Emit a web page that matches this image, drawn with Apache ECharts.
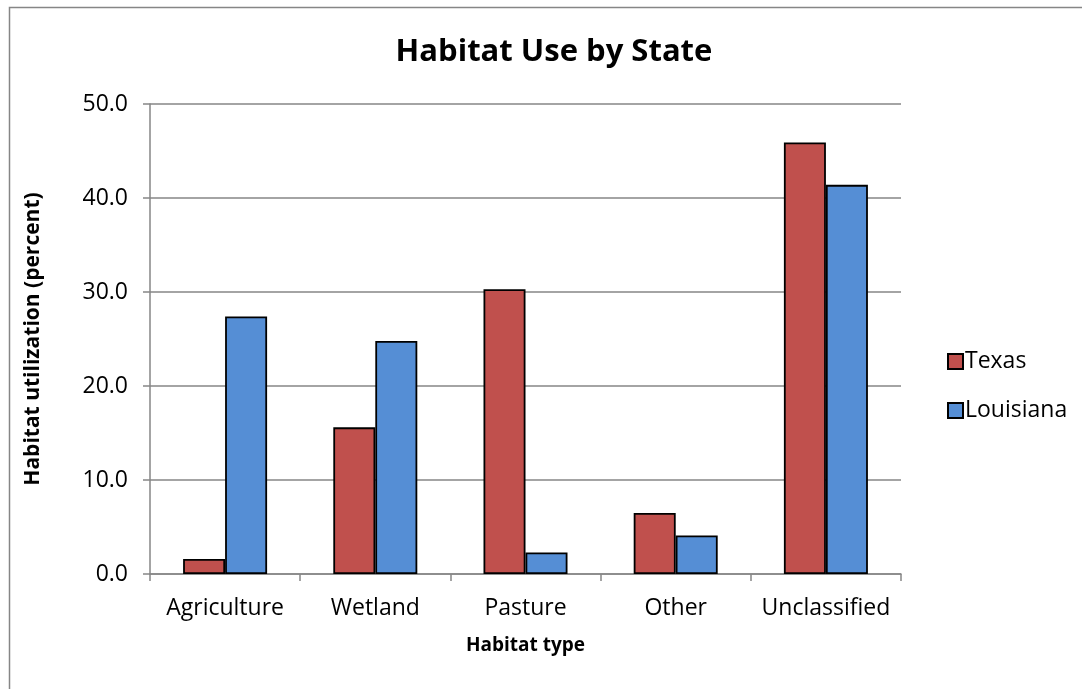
<!DOCTYPE html>
<html>
<head>
<meta charset="utf-8">
<script src="https://cdn.jsdelivr.net/npm/echarts@6/dist/echarts.min.js"></script>
<style>
  html, body { margin: 0; padding: 0; background: #fff; }
  #chart { width: 1082px; height: 689px; }
</style>
</head>
<body>
<div id="chart"></div>
<script>
// Habitat categories and utilization shares (percent) per state
const habitatTypes = ['Agriculture', 'Wetland', 'Pasture', 'Other', 'Unclassified'];
const texasValues = [1.6, 15.6, 30.3, 6.5, 45.9];
const louisianaValues = [27.4, 24.8, 2.3, 4.1, 41.4];
const seriesNames = ['Texas', 'Louisiana'];

const FONT = 'Open Sans, Noto Sans, sans-serif';
const chart = echarts.init(document.getElementById('chart'));

const barStyle = (color) => ({ color: color, borderColor: '#000', borderWidth: 1.8 });

chart.setOption({
  animation: false,
  backgroundColor: '#fff',
  title: {
    text: 'Habitat Use by State',
    left: 549, top: 32, textAlign: 'center',
    textStyle: { fontFamily: FONT, fontSize: 31, fontWeight: 'bold', color: '#000' }
  },
  legend: {
    orient: 'vertical',
    left: 942, top: 345,
    itemWidth: 15, itemHeight: 15, itemGap: 26,
    icon: 'rect',
    textStyle: { fontFamily: FONT, fontSize: 23, color: '#000', padding: [0, 0, 0, -3] },
    data: seriesNames
  },
  grid: { left: 150, right: 181, top: 104, bottom: 115 },
  xAxis: {
    type: 'category',
    data: habitatTypes,
    name: 'Habitat type',
    nameLocation: 'middle',
    nameGap: 62,
    nameTextStyle: { fontFamily: FONT, fontSize: 19, fontWeight: 'bold', color: '#000' },
    axisLine: { lineStyle: { color: '#868686', width: 1.5 } },
    axisTick: { show: true, length: 7, lineStyle: { color: '#868686', width: 1.5 } },
    axisLabel: { interval: 0, fontFamily: FONT, fontSize: 23, color: '#000', margin: 23 }
  },
  yAxis: {
    type: 'value',
    min: 0, max: 50, interval: 10,
    name: 'Habitat utilization (percent)',
    nameLocation: 'middle',
    nameGap: 106,
    nameRotate: 90,
    nameTextStyle: { fontFamily: FONT, fontSize: 21, fontWeight: 'bold', color: '#000' },
    axisLine: { show: true, lineStyle: { color: '#868686', width: 1.5 } },
    axisTick: { show: true, length: 7, lineStyle: { color: '#868686', width: 1.5 } },
    axisLabel: {
      fontFamily: FONT, fontSize: 23, color: '#000', margin: 22,
      formatter: (v) => v.toFixed(1)
    },
    splitLine: { lineStyle: { color: '#868686', width: 1.5 } }
  },
  series: [
    {
      name: seriesNames[0], type: 'bar', data: texasValues,
      barWidth: 42, barGap: '0%',
      itemStyle: barStyle('#C0504D')
    },
    {
      name: seriesNames[1], type: 'bar', data: louisianaValues,
      barWidth: 42, barGap: '0%',
      itemStyle: barStyle('#558ED5')
    }
  ],
  graphic: [
    {
      type: 'rect', left: 7, top: 5, silent: true, z: -1,
      shape: { width: 1100, height: 700 },
      style: { fill: null, stroke: '#868686', lineWidth: 1.5 }
    }
  ]
});
</script>
</body>
</html>
